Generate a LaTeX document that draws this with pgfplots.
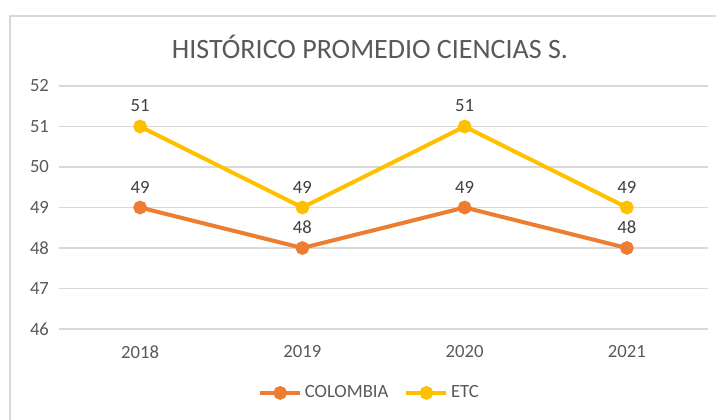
\documentclass[border=0pt]{standalone}
\usepackage{pgfplots}
\pgfplotsset{compat=1.18}
\usepackage{fontspec}
\setmainfont{Carlito}
\definecolor{colO}{HTML}{ED7D31}
\definecolor{colY}{HTML}{FFC000}
\definecolor{gridc}{HTML}{D9D9D9}
\definecolor{txt}{HTML}{595959}
\definecolor{lab}{HTML}{404040}
\begin{document}
\begin{tikzpicture}
\useasboundingbox (0,0) rectangle (537pt,-315pt);
\draw[gridc,line width=1pt] (7.5pt,-315pt) -- (7.5pt,-12pt) -- (537pt,-12pt);
\begin{axis}[
  at={(44.25pt,-246.75pt)}, anchor=south west,
  scale only axis,
  width=486.75pt, height=182.25pt,
  xmin=-0.5, xmax=3.5, ymin=46, ymax=52,
  xtick={0,1,2,3}, xticklabels={2018,2019,2020,2021},
  ytick={46,47,48,49,50,51,52},
  axis line style={draw=none},
  major tick length=0pt,
  ymajorgrids, grid style={gridc,line width=0.9pt},
  tick label style={font=\fontsize{14}{16}\selectfont, text=txt},
  /pgf/number format/assume math mode=true,
  xticklabel style={yshift=-9pt},
  yticklabel style={xshift=-4pt},
  legend columns=2,
  legend style={at={(0.479,-0.263)}, anchor=center, draw=none, fill=none,
    font=\fontsize{14}{16}\selectfont, text=txt,
    /tikz/every even column/.append style={column sep=10pt}},
  legend image code/.code={\draw[#1] (0,0) -- (30pt,0); \fill[#1] (15pt,0) circle (3.6pt);},
  nodes near coords,
  every node near coord/.append style={font=\fontsize{14}{16}\selectfont, text=lab, yshift=6pt},
  clip=false,
]
\addplot[colO, line width=3pt, mark=*, mark size=3.6pt] coordinates {(0,49) (1,48) (2,49) (3,48)};
\addlegendentry{COLOMBIA}
\addplot[colY, line width=3pt, mark=*, mark size=3.6pt] coordinates {(0,51) (1,49) (2,51) (3,49)};
\addlegendentry{ETC}
\end{axis}
\node[text=txt, font=\fontsize{21}{24}\selectfont] at (277.5pt,-35.25pt) {HISTÓRICO PROMEDIO CIENCIAS S.};
\end{tikzpicture}
\end{document}
